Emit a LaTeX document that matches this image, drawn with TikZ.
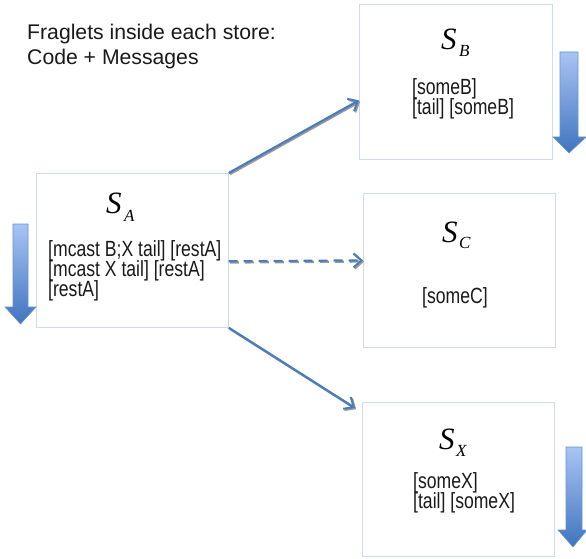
\documentclass[tikz,border=0pt]{standalone}
\usepackage{fontspec}
\setmainfont{Liberation Sans}
\newfontfamily\narrowsans[FakeStretch=0.8]{Liberation Sans}
\newfontfamily\timesit{Liberation Serif}
\usetikzlibrary{arrows.meta}
\definecolor{boxline}{HTML}{CFDAEA}
\definecolor{conn}{HTML}{4A7EBB}
\definecolor{shadowgray}{HTML}{9A9A9A}
\definecolor{arrtop}{HTML}{A8C4F4}
\definecolor{arrbot}{HTML}{3F74BF}
\definecolor{arredge}{HTML}{6B93CC}
\definecolor{txt}{HTML}{1A1A1A}
\tikzset{
  store/.style={draw=boxline, line width=0.7pt, fill=white, rectangle, anchor=north west, inner sep=0pt},
  entry/.style={font=\narrowsans\fontsize{22}{20}\selectfont, text=txt, anchor=base west, inner sep=0pt},
  title/.style={font=\fontsize{21.2}{25}\selectfont, text=txt, anchor=base west, inner sep=0pt},
  bigS/.style={font=\timesit\itshape\fontsize{31}{31}\selectfont, anchor=base west, inner sep=0pt},
  subS/.style={font=\timesit\itshape\fontsize{17}{17}\selectfont, anchor=base west, inner sep=0pt},
  connector/.style={draw=conn, line width=2.2pt, -{Straight Barb[length=8pt,width=14pt,line width=2pt]}},
  connshadow/.style={draw=shadowgray, line width=2.2pt, -{Straight Barb[length=8pt,width=14pt,line width=2pt]}},
  blockarrow/.style={top color=arrtop, bottom color=arrbot, draw=arredge, line width=0.6pt}
}
\begin{document}
\begin{tikzpicture}[x=1pt,y=-1pt]
\useasboundingbox (0,0) rectangle (586,559);
\fill[white] (0,0) rectangle (586,559);

% title
\node[title] (t1) at (27,40) {Fraglets inside each store:};
\node[title] (t2) at (27,65) {Code + Messages};

% stores
\node[store, minimum width=192, minimum height=154] (A) at (36,173) {};
\node[store, minimum width=193, minimum height=155] (B) at (359,4) {};
\node[store, minimum width=192, minimum height=154] (C) at (363,193) {};
\node[store, minimum width=192, minimum height=154] (X) at (362,402) {};

% store labels
\node[bigS] (SA) at (106,213) {S};
\node[subS] (sa) at (124,221) {A};
\node[bigS] (SB) at (441,50) {S};
\node[subS] (sb) at (459,57) {B};
\node[bigS] (SC) at (442,242) {S};
\node[subS] (sc) at (459,248) {C};
\node[bigS] (SX) at (439,449) {S};
\node[subS] (sx) at (456,456) {X};

% fraglets
\node[entry] (a1) at (48,256) {[mcast B;X tail] [restA]};
\node[entry] (a2) at (48,276) {[mcast X tail] [restA]};
\node[entry] (a3) at (48,296) {[restA]};
\node[entry] (b1) at (412,95) {[someB]};
\node[entry] (b2) at (412,115) {[tail] [someB]};
\node[entry] (c1) at (422,303) {[someC]};
\node[entry] (x1) at (413,488) {[someX]};
\node[entry] (x2) at (413,508) {[tail] [someX]};

% connector end points
\coordinate (bIn) at ([yshift=-18.5]B.west);
\coordinate (aMid) at ([yshift=-11]A.east);
\coordinate (cIn) at ([yshift=10]C.west);
\coordinate (xIn) at ([xshift=-7,yshift=-6]X.north west);

% connector shadows
\draw[connshadow] ([shift={(1.2,1.2)}]A.north east) -- ([shift={(1.2,1.2)}]bIn);
\draw[connshadow, dash pattern=on 9pt off 6pt] ([shift={(1.2,1.2)}]aMid) -- ([shift={(1.2,1.2)}]cIn);
\draw[connshadow] ([shift={(1.2,1.2)}]A.south east) -- ([shift={(1.2,1.2)}]xIn);
% connectors
\draw[connector] (A.north east) -- (bIn);
\draw[connector, dash pattern=on 9pt off 6pt] (aMid) -- (cIn);
\draw[connector] (A.south east) -- (xIn);

% block arrows (downward)
\shade[blockarrow] (13,224) -- (28,224) -- (28,307) -- (36,307) -- (20.5,324) -- (5,307) -- (13,307) -- cycle;
\shade[blockarrow] (560,52) -- (578,52) -- (578,137) -- (586,137) -- (569,153) -- (553,137) -- (560,137) -- cycle;
\shade[blockarrow] (566,447) -- (582,447) -- (582,530) -- (587,530) -- (573,547) -- (558,530) -- (566,530) -- cycle;
\end{tikzpicture}
\end{document}
